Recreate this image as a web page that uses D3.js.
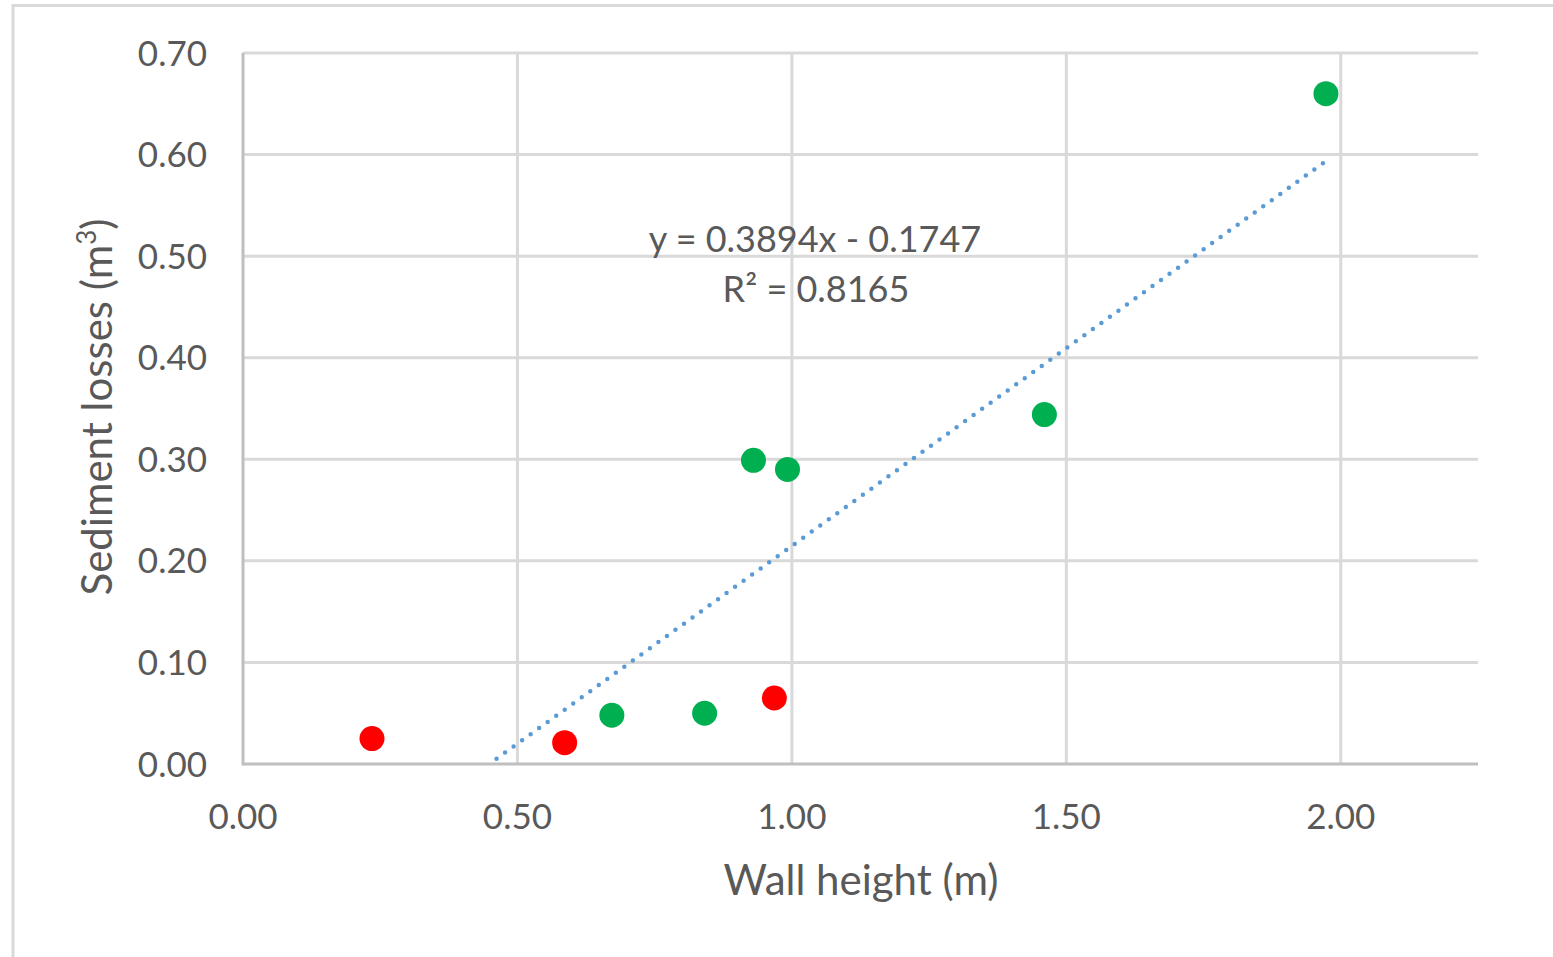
<!DOCTYPE html>
<html><head><meta charset="utf-8">
<script src="https://cdn.jsdelivr.net/npm/d3@7"></script>
<style>body{margin:0;background:#fff}svg{display:block}</style>
</head><body>
<script>
const wallHeight   = [0.235, 0.586, 0.672, 0.841, 0.968, 0.930, 0.992, 1.460, 1.973];
const sediment     = [0.025, 0.021, 0.048, 0.050, 0.065, 0.299, 0.290, 0.344, 0.660];
const pointGroup   = ["red","red","green","green","red","green","green","green","green"];
const xTicks = [0, 0.5, 1.0, 1.5, 2.0];
const yTicks = [0, 0.1, 0.2, 0.3, 0.4, 0.5, 0.6, 0.7];
const slope = 0.3894, intercept = -0.1747, r2 = 0.8165;

const W = 1553, H = 957;
const svg = d3.select("body").append("svg").attr("width", W).attr("height", H);
const font = "Lato, 'Open Sans', sans-serif";
const textColor = "#595959";

// outer chart border
svg.append("rect").attr("x", 13).attr("y", 5.5).attr("width", W + 20).attr("height", H + 20)
  .attr("fill", "none").attr("stroke", "#d9d9d9").attr("stroke-width", 3);

const x = d3.scaleLinear().domain([0, 2.25]).range([243, 1478]);
const y = d3.scaleLinear().domain([0, 0.7]).range([764, 53]);

// gridlines
svg.append("g").selectAll("line.h").data(yTicks.slice(1)).join("line")
  .attr("x1", x(0)).attr("x2", x(2.25)).attr("y1", d => y(d)).attr("y2", d => y(d))
  .attr("stroke", "#d9d9d9").attr("stroke-width", 3);
svg.append("g").selectAll("line.v").data(xTicks.slice(1)).join("line")
  .attr("x1", d => x(d)).attr("x2", d => x(d)).attr("y1", y(0)).attr("y2", y(0.7))
  .attr("stroke", "#d9d9d9").attr("stroke-width", 3);

// axes lines
svg.append("line").attr("x1", x(0)).attr("x2", x(2.25)).attr("y1", y(0)).attr("y2", y(0))
  .attr("stroke", "#bfbfbf").attr("stroke-width", 3);
svg.append("line").attr("x1", x(0)).attr("x2", x(0)).attr("y1", y(0) + 1.5).attr("y2", y(0.7))
  .attr("stroke", "#bfbfbf").attr("stroke-width", 3);

// tick labels
svg.append("g").selectAll("text").data(yTicks).join("text")
  .attr("x", 207).attr("y", d => y(d)).attr("dy", "0.36em").attr("text-anchor", "end")
  .attr("font-family", font).attr("font-size", 35).attr("fill", textColor)
  .text(d => d.toFixed(2));
svg.append("g").selectAll("text").data(xTicks).join("text")
  .attr("x", d => x(d)).attr("y", 829).attr("text-anchor", "middle")
  .attr("font-family", font).attr("font-size", 35).attr("fill", textColor)
  .text(d => d.toFixed(2));

// axis titles
svg.append("text").attr("x", 861).attr("y", 895).attr("text-anchor", "middle")
  .attr("font-family", font).attr("font-size", 42).attr("fill", textColor).text("Wall height (m)");
const yt = svg.append("text").attr("transform", "translate(112,407) rotate(-90)").attr("text-anchor", "middle")
  .attr("font-family", font).attr("font-size", 42).attr("fill", textColor);
yt.append("tspan").text("Sediment losses (m");
yt.append("tspan").attr("baseline-shift", "super").attr("font-size", 26).text("3");
yt.append("tspan").text(")");

// trendline
const xMax = d3.max(wallHeight);
const xStart = Math.max(d3.min(wallHeight), -intercept / slope);
svg.append("line")
  .attr("x1", x(xStart)).attr("y1", y(slope * xStart + intercept))
  .attr("x2", x(xMax)).attr("y2", y(slope * xMax + intercept))
  .attr("stroke", "#5b9bd5").attr("stroke-width", 4.5).attr("stroke-linecap", "round")
  .attr("stroke-dasharray", "0 10.5").attr("stroke-dashoffset", -9);

// points
svg.append("g").selectAll("circle").data(wallHeight).join("circle")
  .attr("cx", d => x(d)).attr("cy", (d, i) => y(sediment[i])).attr("r", 12.5)
  .attr("fill", (d, i) => pointGroup[i] === "red" ? "#ff0000" : "#00b050");

// equation labels
svg.append("text").attr("x", 815).attr("y", 252).attr("text-anchor", "middle")
  .attr("font-family", font).attr("font-size", 36).attr("fill", textColor)
  .text(`y = ${slope.toFixed(4)}x - ${Math.abs(intercept).toFixed(4)}`);
svg.append("text").attr("x", 816).attr("y", 302).attr("text-anchor", "middle")
  .attr("font-family", font).attr("font-size", 36).attr("fill", textColor)
  .text(`R² = ${r2.toFixed(4)}`);
</script>
</body></html>
